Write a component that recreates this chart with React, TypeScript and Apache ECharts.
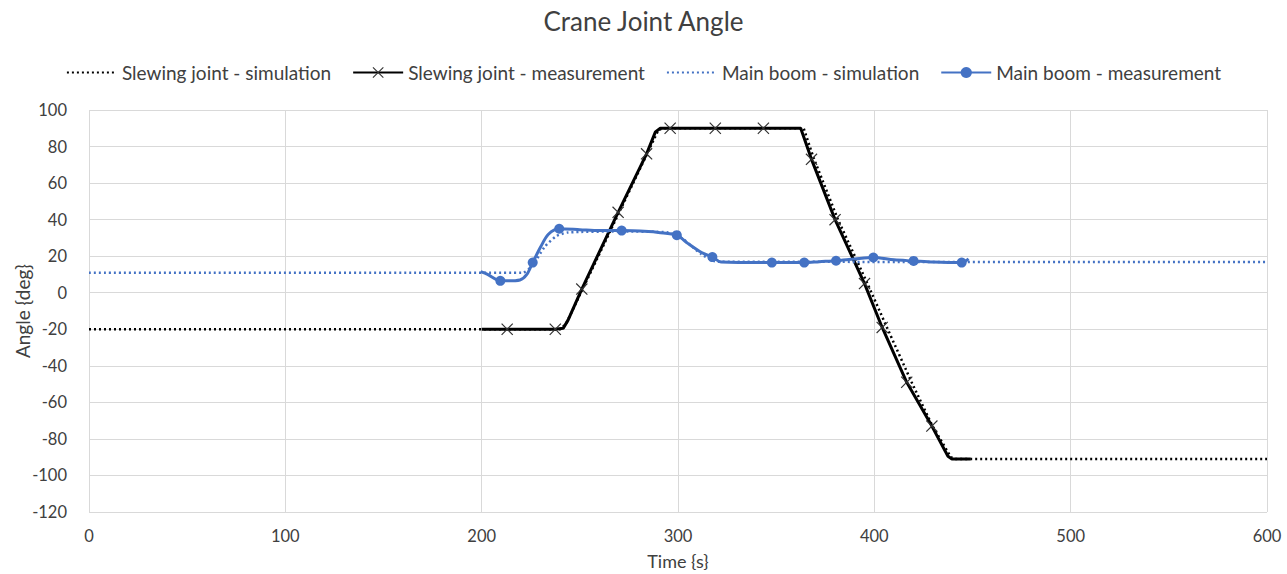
import React, { useEffect, useRef } from "react";
import * as echarts from "echarts";

type Pt = [number, number];

const slewingSimulation: Pt[] = [
  [0, -20], [240, -20], [243, -17], [290, 89], [292, 90], [364, 90],
  [369, 74], [381.5, 40], [396.5, 5], [406, -18], [419, -49], [429.5, -72.7],
  [439, -90], [441, -91], [600, -91],
];

// [time s, angle deg, marker shown?]
const slewingMeasurement: [number, number, number][] = [
  [200, -20, 0], [213, -20, 1], [237.5, -20, 1], [241.5, -19.5, 0], [244, -15, 0],
  [251, 2, 1], [269.5, 44, 1], [284, 76, 1], [288.5, 88, 0], [291, 90, 0],
  [296, 90, 1], [319, 90, 1], [343.5, 90, 1], [362.5, 90, 0], [368, 73, 1],
  [380, 40, 1], [395, 5, 1], [404, -19, 1], [416.5, -49, 1], [429.3, -73, 1],
  [437.5, -89.5, 0], [439.5, -91, 0], [449, -91, 0],
];

const mainBoomSimulation: Pt[] = [
  [0, 11], [221, 11], [226, 15], [232, 25], [238, 31], [244, 33], [270, 33.5],
  [295, 33], [303, 29], [312, 21], [320, 17], [600, 16.8],
];

const mainBoomMeasurement: [number, number, number][] = [
  [199.5, 11.5, 0], [203, 10, 0], [209.5, 6.5, 1], [213, 6.5, 0], [219.5, 7, 0],
  [223, 10, 0], [226, 16.5, 1], [230, 25, 0], [234, 32, 0], [239.5, 35, 1],
  [250, 34.5, 0], [260, 34, 0], [271.3, 34, 1], [285, 33.5, 0], [290, 33, 0],
  [299.4, 31.5, 1], [305, 27, 0], [312, 22, 0], [317.5, 19.5, 1], [322, 16.8, 0],
  [347.8, 16.5, 1], [364.3, 16.5, 1], [372, 17, 0], [380.5, 17.5, 1], [390, 18.5, 0],
  [399.5, 19.3, 1], [410, 18, 0], [420, 17.4, 1], [430, 16.8, 0], [444.5, 16.5, 1],
  [448, 18.5, 0],
];

const seriesNames = [
  "Slewing joint - simulation",
  "Slewing joint - measurement",
  "Main boom - simulation",
  "Main boom - measurement",
];

const X_SYMBOL =
  "path://M0,0.7 L0.7,0 L5,4.3 L9.3,0 L10,0.7 L5.7,5 L10,9.3 L9.3,10 L5,5.7 L0.7,10 L0,9.3 L4.3,5 Z";

const BLACK = "#000000";
const BLUE = "#4472C4";
const TEXT = "#404040";
const FONT = "Lato, 'Liberation Sans', sans-serif";

function withMarkers(rows: [number, number, number][]) {
  return rows.map(([x, y, m]) => (m ? { value: [x, y] } : { value: [x, y], symbol: "none" }));
}

export default function App() {
  const ref = useRef<HTMLDivElement>(null);
  useEffect(() => {
    document.body.style.margin = "0";
    if (!ref.current) return;
    const chart = echarts.init(ref.current, undefined, { renderer: "svg" });
    chart.setOption({
      animation: false,
      backgroundColor: "#ffffff",
      textStyle: { fontFamily: FONT },
      title: {
        text: "Crane Joint Angle",
        left: "center",
        top: 3,
        textStyle: { fontSize: 26, fontWeight: "normal", color: TEXT, fontFamily: FONT },
      },
      legend: {
        top: 58,
        left: "center",
        itemWidth: 50,
        itemHeight: 14,
        itemGap: 21,
        textStyle: { fontSize: 19, color: TEXT, fontFamily: FONT },
        data: [
          { name: seriesNames[0], itemStyle: { opacity: 0 } },
          { name: seriesNames[1] },
          { name: seriesNames[2], itemStyle: { opacity: 0 } },
          { name: seriesNames[3] },
        ],
      },
      grid: { left: 89, right: 20, top: 110, bottom: 62, containLabel: false, outerBoundsMode: "none" },
      xAxis: {
        type: "value",
        min: 0,
        max: 600,
        interval: 100,
        name: "Time {s}",
        nameLocation: "middle",
        nameGap: 40,
        nameMoveOverlap: false,
        nameTextStyle: { fontSize: 18, color: TEXT },
        axisLine: { show: false },
        axisTick: { show: false },
        axisLabel: { fontSize: 16.5, color: TEXT, margin: 15 },
        splitLine: { show: true, lineStyle: { color: "#d9d9d9", width: 1 } },
      },
      yAxis: {
        type: "value",
        min: -120,
        max: 100,
        interval: 20,
        name: "Angle {deg}",
        nameLocation: "middle",
        nameGap: 57,
        nameRotate: 90,
        nameMoveOverlap: false,
        nameTextStyle: { fontSize: 19, color: TEXT },
        axisLine: { show: false },
        axisTick: { show: false },
        axisLabel: { fontSize: 16.5, color: TEXT, margin: 22 },
        splitLine: { show: true, lineStyle: { color: "#d9d9d9", width: 1 } },
      },
      series: [
        {
          name: seriesNames[0],
          type: "line",
          symbol: "none",
          data: slewingSimulation,
          lineStyle: { color: BLACK, width: 2.5, type: [2, 3] },
          itemStyle: { color: BLACK },
          z: 2,
        },
        {
          name: seriesNames[1],
          type: "line",
          symbol: X_SYMBOL,
          symbolSize: 12,
          showAllSymbol: true,
          data: withMarkers(slewingMeasurement),
          lineStyle: { color: BLACK, width: 3 },
          itemStyle: { color: "#333333" },
          z: 3,
        },
        {
          name: seriesNames[2],
          type: "line",
          symbol: "none",
          data: mainBoomSimulation,
          smooth: 0.2,
          lineStyle: { color: BLUE, width: 2.5, type: [2, 3] },
          itemStyle: { color: BLUE },
          z: 4,
        },
        {
          name: seriesNames[3],
          type: "line",
          symbol: "circle",
          symbolSize: 10,
          showAllSymbol: true,
          smooth: 0.3,
          data: withMarkers(mainBoomMeasurement),
          lineStyle: { color: BLUE, width: 3 },
          itemStyle: { color: BLUE },
          z: 5,
        },
      ],
    });
    return () => chart.dispose();
  }, []);
  return <div ref={ref} style={{ width: 1287, height: 574 }} />;
}
